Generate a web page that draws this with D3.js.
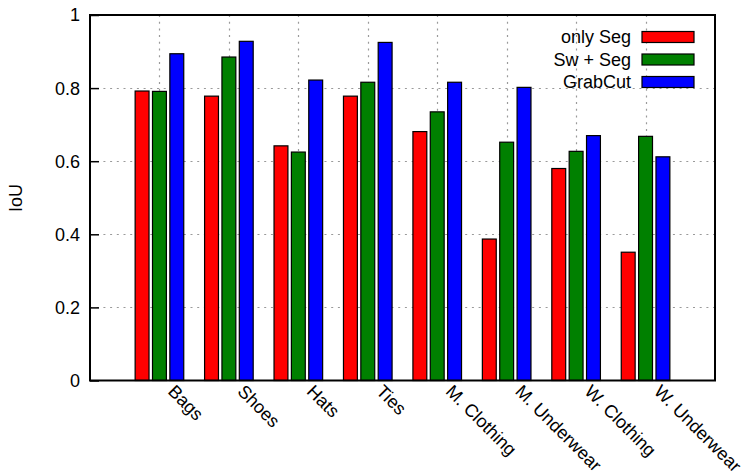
<!DOCTYPE html>
<html>
<head>
<meta charset="utf-8">
<script src="https://cdn.jsdelivr.net/npm/d3@7"></script>
<style>
  html, body { margin: 0; padding: 0; background: #fff; }
  text { font-family: "Liberation Sans", Arial, sans-serif; fill: #000; }
</style>
</head>
<body>
<svg id="chart" width="741" height="475"></svg>
<script>
// Categories and per-method IoU values
const categories = ["Bags", "Shoes", "Hats", "Ties", "M. Clothing", "M. Underwear", "W. Clothing", "W. Underwear"];
const seriesNames = ["only Seg", "Sw + Seg", "GrabCut"];
const onlySeg = [0.792, 0.778, 0.642, 0.778, 0.681, 0.387, 0.580, 0.351];
const swSeg   = [0.791, 0.885, 0.625, 0.816, 0.735, 0.652, 0.627, 0.668];
const grabCut = [0.894, 0.928, 0.822, 0.925, 0.816, 0.802, 0.670, 0.612];
const yTicks = [0, 0.2, 0.4, 0.6, 0.8, 1];
const yTickLabels = ["0", "0.2", "0.4", "0.6", "0.8", "1"];
const seriesColors = ["#ff0000", "#008000", "#0000ff"];

const series = [onlySeg, swSeg, grabCut];

const svg = d3.select("#chart");
const plotLeft = 90, plotRight = 715, plotTop = 15, plotBottom = 380.5;

const x = d3.scaleLinear().domain([-1, categories.length]).range([plotLeft, plotRight]);
const y = d3.scaleLinear().domain([0, 1]).range([plotBottom, plotTop]);

// Grid (dotted) behind the bars
const grid = svg.append("g").attr("stroke", "#9a9a9a").attr("stroke-width", 1.2)
  .attr("stroke-dasharray", "2,4.7");
grid.selectAll("line.h").data(yTicks.filter(v => v > 0 && v < 1)).join("line")
  .attr("x1", plotLeft).attr("x2", plotRight)
  .attr("y1", d => Math.round(y(d)) + 0.5).attr("y2", d => Math.round(y(d)) + 0.5);
grid.selectAll("line.v").data(categories.map((c, i) => i)).join("line")
  .attr("x1", d => Math.round(x(d)) + 0.5).attr("x2", d => Math.round(x(d)) + 0.5)
  .attr("y1", plotTop).attr("y2", plotBottom);

// Clustered bars: three slots per category plus one gap slot
const slot = 0.25, barW = 0.2;
const bars = svg.append("g");
series.forEach((vals, s) => {
  bars.selectAll(null).data(vals).join("rect")
    .attr("x", (d, i) => x(i + (s - 1) * slot - barW / 2))
    .attr("width", x(barW) - x(0))
    .attr("y", d => y(d))
    .attr("height", d => y(0) - y(d))
    .attr("fill", seriesColors[s])
    .attr("stroke", "#000")
    .attr("stroke-width", 1.2);
});

// Frame
svg.append("rect")
  .attr("x", plotLeft).attr("y", plotTop)
  .attr("width", plotRight - plotLeft).attr("height", plotBottom - plotTop)
  .attr("fill", "none").attr("stroke", "#000").attr("stroke-width", 2);

// Y axis: inward ticks and labels
const yAxis = d3.axisLeft(y).tickValues(yTicks)
  .tickFormat((d, i) => yTickLabels[i]).tickSizeInner(-9).tickSizeOuter(0).tickPadding(10);
const yg = svg.append("g").attr("transform", `translate(${plotLeft},0)`).call(yAxis);
yg.select(".domain").remove();
yg.selectAll(".tick line").attr("stroke", "#000").attr("stroke-width", 1.5);
yg.selectAll(".tick text").attr("font-size", 18).attr("font-family", "Liberation Sans, Arial, sans-serif")
  .attr("fill", "#000").attr("dy", "0.33em");

// X axis: rotated category labels
const xAxis = d3.axisBottom(x).tickValues(categories.map((c, i) => i))
  .tickFormat((d) => categories[d]).tickSize(0);
const xg = svg.append("g").attr("transform", `translate(0,${plotBottom})`).call(xAxis);
xg.select(".domain").remove();
xg.selectAll(".tick text")
  .attr("font-size", 18).attr("font-family", "Liberation Sans, Arial, sans-serif").attr("fill", "#000")
  .attr("text-anchor", "start")
  .attr("y", 0).attr("dy", 0)
  .attr("transform", "translate(7,12) rotate(45)");

// Y axis title
svg.append("text")
  .attr("transform", "translate(22,198) rotate(-90)")
  .attr("text-anchor", "middle")
  .attr("font-size", 18)
  .text("IoU");

// Legend
const legend = svg.append("g");
seriesNames.forEach((name, s) => {
  const cy = 37 + s * 22.5;
  legend.append("text")
    .attr("x", 631).attr("y", cy).attr("dy", "0.35em")
    .attr("text-anchor", "end").attr("font-size", 18).text(name);
  legend.append("rect")
    .attr("x", 642).attr("y", cy - 5.5).attr("width", 52).attr("height", 11)
    .attr("fill", seriesColors[s]).attr("stroke", "#000").attr("stroke-width", 1.2);
});
</script>
</body>
</html>
